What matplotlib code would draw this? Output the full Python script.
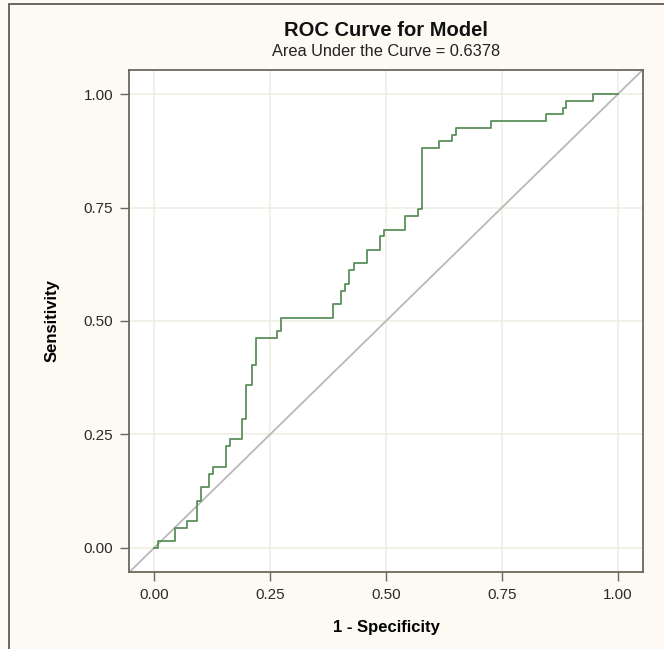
import matplotlib
matplotlib.use("Agg")
import matplotlib.pyplot as plt
from matplotlib.patches import Rectangle

# ROC curve vertices (1 - specificity, sensitivity), step corners
fpr = [0.000, 0.008, 0.045, 0.072, 0.092, 0.101, 0.119, 0.126, 0.155, 0.164,
       0.190, 0.199, 0.212, 0.220, 0.266, 0.274, 0.385, 0.403, 0.412, 0.420,
       0.430, 0.458, 0.487, 0.496, 0.540, 0.570, 0.578, 0.615, 0.642, 0.651,
       0.726, 0.844, 0.881, 0.889, 0.946, 1.000]
tpr = [0.000, 0.015, 0.045, 0.060, 0.104, 0.134, 0.164, 0.179, 0.224, 0.239,
       0.284, 0.358, 0.403, 0.463, 0.478, 0.507, 0.537, 0.567, 0.582, 0.612,
       0.627, 0.657, 0.687, 0.701, 0.731, 0.746, 0.881, 0.896, 0.910, 0.925,
       0.940, 0.955, 0.970, 0.985, 1.000, 1.000]
ticks = [0.0, 0.25, 0.5, 0.75, 1.0]
tick_labels = ["0.00", "0.25", "0.50", "0.75", "1.00"]
title = "ROC Curve for Model"
subtitle = "Area Under the Curve = 0.6378"

plt.rcParams['font.family'] = ['Liberation Sans', 'DejaVu Sans']

W, H = 664, 649
fig = plt.figure(figsize=(W / 100, H / 100), dpi=100)
fig.patch.set_facecolor('#FCFAF3')

# outer frame (left and top edges visible)
fig.patches.append(Rectangle((9 / W, -0.1), 1.2, 1.1 - 4 / H, transform=fig.transFigure,
                             fill=False, edgecolor='#5E5B52', linewidth=1.3, zorder=0))

ax = fig.add_axes([129 / W, (H - 572) / H, (643 - 129) / W, (572 - 70) / H])
ax.set_facecolor('white')
ax.set_xlim(-0.054, 1.054)
ax.set_ylim(-0.053, 1.053)

ax.set_xticks(ticks)
ax.set_xticklabels(tick_labels)
ax.set_yticks(ticks)
ax.set_yticklabels(tick_labels)
ax.grid(True, color='#EFEDE0', linewidth=1.1)
ax.set_axisbelow(True)

ax.axline((0, 0), (1, 1), color='#B9B9B9', linewidth=1.3, zorder=2)
ax.plot(fpr, tpr, drawstyle='steps-post', color='#5B8F5B', linewidth=1.3, zorder=3)

for s in ax.spines.values():
    s.set_color('#6B675C')
    s.set_linewidth(1.3)
ax.tick_params(axis='both', direction='out', length=6.5, width=1.0, color='#6B675C',
               labelsize=11, labelcolor='#2A2A2A', pad=5)

ax.set_xlabel("1 - Specificity", fontsize=12, fontweight='bold', labelpad=13)
ax.set_ylabel("Sensitivity", fontsize=12, fontweight='bold', labelpad=17)

fig.text(386 / W, 1 - 31 / H, title, ha='center', va='center', fontsize=14.5,
         fontweight='bold', color='#111111')
fig.text(386 / W, 1 - 52 / H, subtitle, ha='center', va='center', fontsize=11.8,
         color='#222222')

fig.savefig("out.png", dpi=100, facecolor=fig.get_facecolor())
